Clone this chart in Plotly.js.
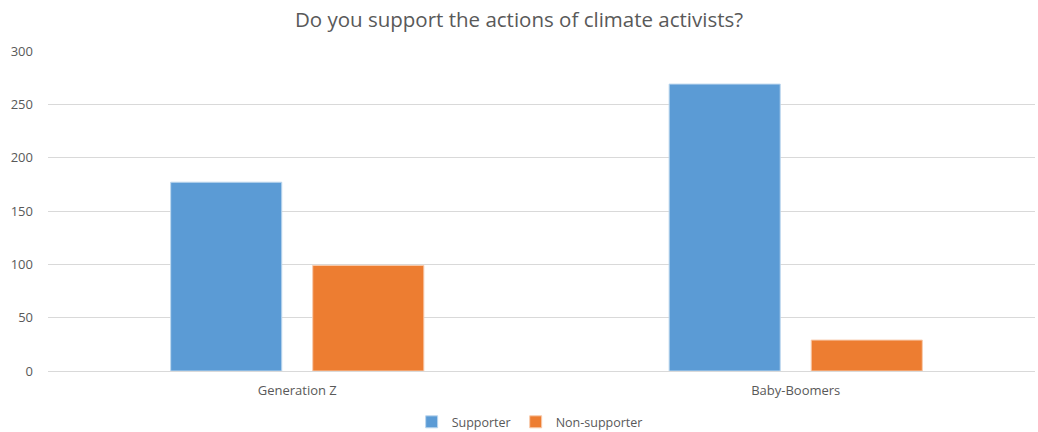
<!DOCTYPE html>
<html>
<head>
<meta charset="utf-8">
<script src="https://cdn.plot.ly/plotly-3.0.1.min.js"></script>
<style>html,body{margin:0;padding:0;background:#fff;}#chart{width:1038px;height:432px;}</style>
</head>
<body>
<div id="chart"></div>
<script>
const categories = ["Generation Z", "Baby-Boomers"];
const supporter = [177, 269];
const nonSupporter = [99, 29];
const yTicks = [0, 50, 100, 150, 200, 250, 300];

const fontFam = "'Open Sans', sans-serif";
const grey = "#595959";

const traces = [
  {type: "bar", name: "Supporter", x: categories, y: supporter,
   marker: {color: "#5B9BD5", line: {color: "#BDD7EE", width: 1}}, hoverinfo: "y"},
  {type: "bar", name: "Non-supporter", x: categories, y: nonSupporter,
   marker: {color: "#ED7D31", line: {color: "#F8CBAD", width: 1}}, hoverinfo: "y"}
];

const layout = {
  width: 1038, height: 432,
  margin: {l: 48, r: 3, t: 51, b: 61, autoexpand: false},
  paper_bgcolor: "#fff", plot_bgcolor: "#fff",
  font: {family: fontFam, color: grey, size: 12},
  title: {text: "Do you support the actions of climate activists?",
          font: {family: fontFam, size: 20.5, color: grey},
          x: 0.5, xanchor: "center", y: 0.955, yanchor: "middle"},
  barmode: "group",
  bargap: 0.43,
  bargroupgap: 0.218,
  xaxis: {type: "category", range: [-0.5, 1.48], showgrid: false, showline: false, ticks: "",
          tickfont: {family: fontFam, size: 13, color: grey}, ticklabelstandoff: 10},
  yaxis: {range: [0, 300], tickvals: yTicks, showgrid: true, gridcolor: "#D9D9D9",
          gridwidth: 1, zeroline: true, zerolinecolor: "#D9D9D9", zerolinewidth: 1,
          showline: false, ticks: "", ticklabelstandoff: 14,
          tickfont: {family: fontFam, size: 13, color: grey}},
  legend: {orientation: "h", x: 0.488, xanchor: "center", y: -0.16, yanchor: "middle",
           font: {family: fontFam, size: 12.5, color: grey}, itemwidth: 30,
           traceorder: "normal"},
  showlegend: true
};

Plotly.newPlot("chart", traces, layout, {displayModeBar: false, staticPlot: true});
</script>
</body>
</html>
